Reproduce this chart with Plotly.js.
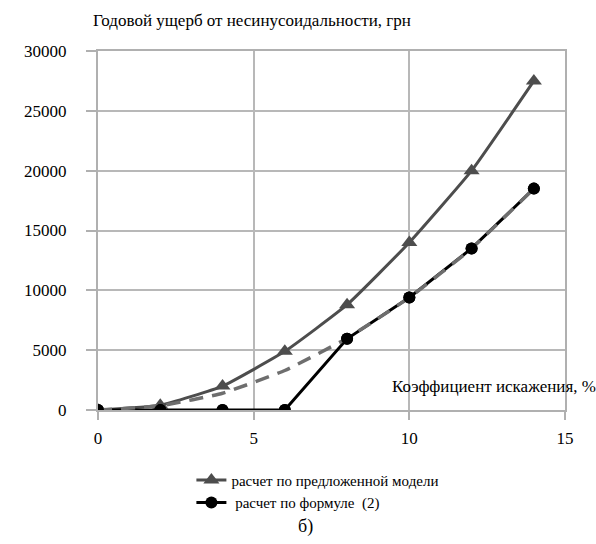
<!DOCTYPE html>
<html>
<head>
<meta charset="utf-8">
<script src="https://cdn.plot.ly/plotly-3.0.1.min.js"></script>
<style>
html,body{margin:0;padding:0;background:#fff;font-family:'Liberation Serif',serif;}
#chart{width:596px;height:544px;}
#chart text{font-family:'Liberation Serif',serif !important;}
</style>
</head>
<body>
<div id="chart"></div>
<script>
var distortion = [0, 2, 4, 6, 8, 10, 12, 14];
var modelDamage = [0, 400, 2000, 4900, 8800, 14000, 20000, 27500];
var formulaDamage = [0, 0, 0, 0, 5950, 9400, 13500, 18500];
var trendDamage = [0, 350, 1400, 3300, 6000, 9400, 13500, 18500];
var seriesNames = ['расчет по предложенной модели', ' расчет по формуле  (2)'];
var yTitle = 'Годовой ущерб от несинусоидальности, грн';
var xTitle = 'Коэффициент искажения, %';
var caption = 'б)';

var fontFamily = 'Liberation Serif';

var traces = [
  {
    x: distortion, y: modelDamage, name: seriesNames[0], type: 'scatter', mode: 'lines+markers',
    line: {color: '#4d4d4d', width: 3, shape: 'spline', smoothing: 0.4},
    marker: {symbol: 'triangle-up', size: 14, color: '#4d4d4d'}
  },
  {
    x: distortion, y: formulaDamage, name: seriesNames[1], type: 'scatter', mode: 'lines+markers',
    line: {color: '#000000', width: 3},
    marker: {symbol: 'circle', size: 12, color: '#000000'}
  },
  {
    x: distortion, y: trendDamage, type: 'scatter', mode: 'lines', showlegend: false, hoverinfo: 'skip',
    line: {color: '#6e6e6e', width: 3.5, dash: '14px,9px', shape: 'spline', smoothing: 0.4}
  },
  {
    x: distortion, y: formulaDamage, type: 'scatter', mode: 'markers', showlegend: false, hoverinfo: 'skip',
    marker: {symbol: 'circle', size: 12, color: '#000000'}
  }
];

var layout = {
  width: 596, height: 544,
  margin: {l: 98, r: 31, t: 51, b: 134},
  paper_bgcolor: '#ffffff', plot_bgcolor: '#ffffff',
  font: {family: fontFamily},
  showlegend: true,
  legend: {
    x: 0.2, y: -0.15, xanchor: 'left', yanchor: 'top',
    font: {family: fontFamily, size: 15, color: '#000000'},
    bgcolor: 'rgba(0,0,0,0)', tracegroupgap: 4
  },
  xaxis: {
    range: [0, 15], tickvals: [0, 5, 10, 15], ticktext: ['0', '5', '10', '15'],
    showgrid: true, gridcolor: '#b8b8b8', gridwidth: 2,
    showline: true, linecolor: '#b0b0b0', linewidth: 2, mirror: true,
    ticks: 'outside', ticklen: 8, tickcolor: '#b0b0b0', tickwidth: 2,
    zeroline: false, tickfont: {family: fontFamily, size: 17, color: '#000000'},
    ticklabelstandoff: 4
  },
  yaxis: {
    range: [0, 30000], tickvals: [0, 5000, 10000, 15000, 20000, 25000, 30000],
    ticktext: ['0', '5000', '10000', '15000', '20000', '25000', '30000'],
    showgrid: true, gridcolor: '#b8b8b8', gridwidth: 2,
    showline: true, linecolor: '#b0b0b0', linewidth: 2, mirror: true,
    ticks: 'outside', ticklen: 10, tickcolor: '#b0b0b0', tickwidth: 2,
    zeroline: false, tickfont: {family: fontFamily, size: 17, color: '#000000'},
    ticklabelstandoff: 16
  },
  annotations: [
    {text: yTitle, xref: 'paper', yref: 'paper', x: -0.015, y: 1.085, xanchor: 'left', yanchor: 'middle',
     showarrow: false, font: {family: fontFamily, size: 17, color: '#000000'}},
    {text: xTitle, xref: 'paper', yref: 'paper', x: 1.07, y: 0.065, xanchor: 'right', yanchor: 'middle',
     showarrow: false, font: {family: fontFamily, size: 17, color: '#000000'}},
    {text: caption, xref: 'paper', yref: 'paper', x: 0.445, y: -0.325, xanchor: 'center', yanchor: 'middle',
     showarrow: false, font: {family: fontFamily, size: 18, color: '#000000'}}
  ]
};

Plotly.newPlot('chart', traces, layout, {displayModeBar: false}).then(function (gd) {
  gd.querySelectorAll('text').forEach(function (t) { t.style.fontFamily = "'Liberation Serif', serif"; });
});
</script>
</body>
</html>
